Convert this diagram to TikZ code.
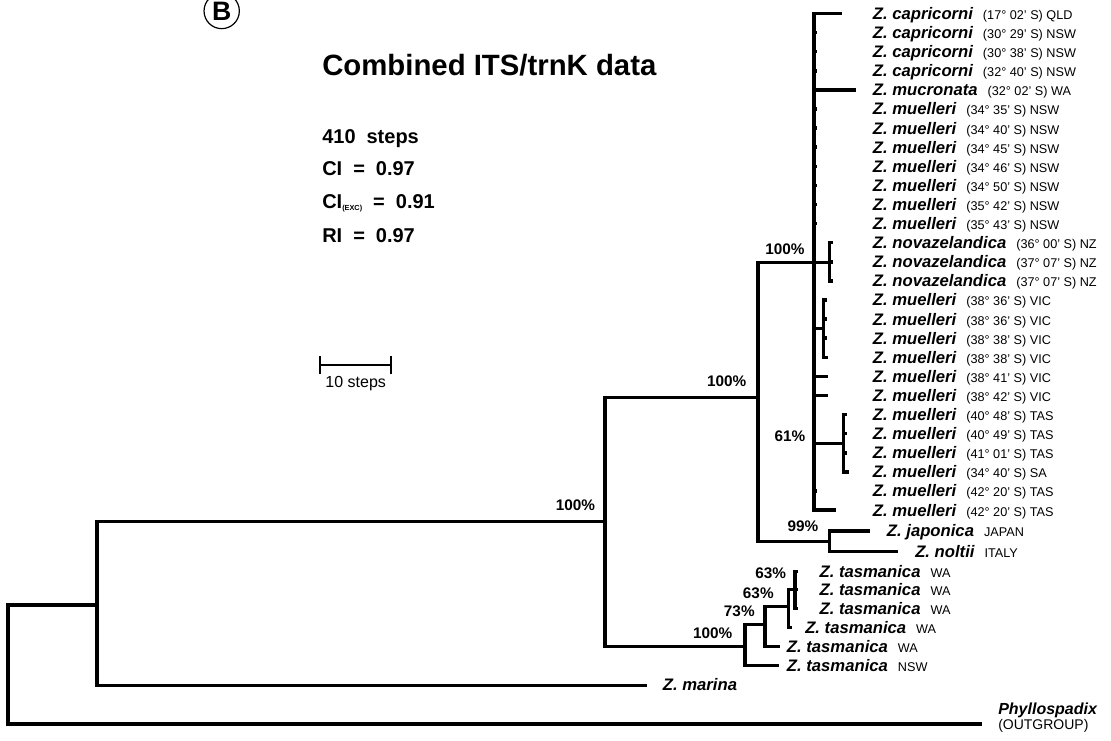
\documentclass[tikz,border=0pt]{standalone}
\usepackage{fontspec}
\setmainfont{Liberation Sans}
\newcommand\locality[1]{\hspace{7.5pt}{\normalfont\fontsize{9.5}{11}\selectfont #1}}
\newcommand\widesp{\spaceskip=0.55em\relax}
\begin{document}
\begin{tikzpicture}[x=0.75pt,y=-0.75pt,
  branch/.style={line width=2.6pt,line cap=rect},
  scalebar/.style={line width=1.5pt},
  taxon/.style={anchor=base west,inner sep=0pt,font=\fontsize{12.5}{14}\selectfont\bfseries\itshape},
  boot/.style={inner sep=0pt,font=\fontsize{11.5}{13}\selectfont\bfseries},
  stat/.style={anchor=base west,inner sep=0pt,font=\fontsize{15}{18}\selectfont\bfseries\widesp},
]
\useasboundingbox (0,0) rectangle (1111,741);

% panel letter, title and tree statistics
\node[draw,circle,line width=0.9pt,minimum size=26.5pt,inner sep=0pt,
  font=\fontsize{20}{20}\selectfont\bfseries] (panel) at (221.7,11) {B};
\node[anchor=base west,inner sep=0pt,font=\fontsize{22}{26}\selectfont\bfseries] (title) at (322,75.5) {Combined ITS/trnK data};
\node[stat] (steps) at (322,143.2) {410 steps};
\node[stat] (ci) at (322,175.2) {CI = 0.97};
\node[stat] (ciexc) at (322,208.9) {CI\raisebox{-1.5pt}{\fontsize{5.5}{6}\selectfont(EXC)} = 0.91};
\node[stat] (ri) at (322,242.2) {RI = 0.97};

% scale bar
\draw[scalebar] (320,365) -- (390.7,365);
\draw[scalebar] (320,356) -- (320,374);
\draw[scalebar] (390.7,356) -- (390.7,374);
\node[inner sep=0pt,font=\fontsize{12}{14}\selectfont] (scale) at (355.7,384) {10 steps};

% internal nodes
\coordinate (root) at (8,605);
\coordinate (zost) at (97,605);
\coordinate (ingr) at (605,521.7);
\coordinate (muel) at (758,397.3);
\coordinate (poly) at (814,262.3);
\coordinate (nova) at (829.3,262.3);
\coordinate (vic) at (823.3,328.7);
\coordinate (tas) at (843.3,443.3);
\coordinate (japnol) at (829.3,541.7);
\coordinate (tasA) at (745,646.7);
\coordinate (tasB) at (765,624.3);
\coordinate (tasC) at (788.5,606.7);
\coordinate (tasD) at (795,589.3);
% tips
\coordinate (outtip) at (980,724);
\coordinate (martip) at (645,685.7);
\coordinate (japtip) at (868.3,531);
\coordinate (noltip) at (896.5,551.7);

\draw[branch] (root) |- (zost);
\draw[branch] (root) |- (outtip);
\draw[branch] (zost) |- (ingr);
\draw[branch] (zost) |- (martip);
\draw[branch] (ingr) |- (muel);
\draw[branch] (ingr) |- (tasA);
\draw[branch] (muel) |- (poly);
\draw[branch] (muel) |- (japnol);
\draw[branch] (poly) |- (nova);
\draw[branch] (poly) |- (vic);
\draw[branch] (poly) |- (tas);
\draw[branch] (japnol) |- (japtip);
\draw[branch] (japnol) |- (noltip);
\draw[branch] (tasA) |- (tasB);
\draw[branch] (tasB) |- (tasC);
\draw[branch] (tasC) |- (tasD);

% leaves of the big clade
\foreach \anc/\tx [count=\i] in {poly/840,poly/815.5,poly/815.5,poly/815.5,poly/854.3,
    poly/815.5,poly/815.5,poly/815.5,poly/815.5,poly/815.5,poly/815.5,poly/815.5,
    nova/830.8,nova/830.8,nova/830.8,vic/824.8,vic/824.8,vic/824.8,vic/826.3,
    poly/826.5,poly/826.5,tas/844.8,tas/844.8,tas/844.8,tas/847.5,poly/815.5,poly/834.3}
  \draw[branch] (\anc) |- (\tx,{13.5+(\i-1)*19.1});

\foreach \nm/\lc [count=\i] in {capricorni/{(17° 02' S) QLD},capricorni/{(30° 29' S) NSW},
    capricorni/{(30° 38' S) NSW},capricorni/{(32° 40' S) NSW},mucronata/{(32° 02' S) WA},
    muelleri/{(34° 35' S) NSW},muelleri/{(34° 40' S) NSW},muelleri/{(34° 45' S) NSW},
    muelleri/{(34° 46' S) NSW},muelleri/{(34° 50' S) NSW},muelleri/{(35° 42' S) NSW},
    muelleri/{(35° 43' S) NSW},novazelandica/{(36° 00' S) NZ},novazelandica/{(37° 07' S) NZ},
    novazelandica/{(37° 07' S) NZ},muelleri/{(38° 36' S) VIC},muelleri/{(38° 36' S) VIC},
    muelleri/{(38° 38' S) VIC},muelleri/{(38° 38' S) VIC},muelleri/{(38° 41' S) VIC},
    muelleri/{(38° 42' S) VIC},muelleri/{(40° 48' S) TAS},muelleri/{(40° 49' S) TAS},
    muelleri/{(41° 01' S) TAS},muelleri/{(34° 40' S) SA},muelleri/{(42° 20' S) TAS},
    muelleri/{(42° 20' S) TAS}}
  \node[taxon] (t\i) at (872.7,{19.5+(\i-1)*19.1}) {Z. \nm\locality{\lc}};

% Z. tasmanica clade
\foreach \anc/\tx/\ty/\lx/\lc [count=\i] in {tasD/796.5/571.7/819.3/WA,tasD/796.5/589.3/819.3/WA,
    tasD/796.5/608.3/819.3/WA,tasC/790/627.3/805/WA,tasB/778.3/646.7/786.7/WA,tasA/777.6/665.7/786.7/NSW}
{
  \draw[branch] (\anc) |- (\tx,\ty);
  \node[taxon] (z\i) at (\lx,\ty+6) {Z. tasmanica\locality{\lc}};
}

\node[taxon] (jap) at (886.7,537) {Z. japonica\locality{JAPAN}};
\node[taxon] (nol) at (915,557.7) {Z. noltii\locality{ITALY}};
\node[taxon] (mar) at (662.7,690) {Z. marina};
\node[taxon,font=\fontsize{12}{13}\selectfont\bfseries\itshape] (out) at (998,714.5) {Phyllospadix};
\node[anchor=base west,inner sep=0pt,font=\fontsize{10.5}{12}\selectfont] (outg) at (998,729.5) {(OUTGROUP)};

% bootstrap values
\node[boot] (b1) at (575.5,505) {100\%};
\node[boot] (b2) at (726.7,381.7) {100\%};
\node[boot] (b3) at (785,249.3) {100\%};
\node[boot] (b4) at (790,436.7) {61\%};
\node[boot] (b5) at (803,526.7) {99\%};
\node[boot] (b6) at (712.7,633.3) {100\%};
\node[boot] (b7) at (739.3,611.7) {73\%};
\node[boot] (b8) at (758.3,593.3) {63\%};
\node[boot] (b9) at (770.7,573.3) {63\%};
\end{tikzpicture}
\end{document}
